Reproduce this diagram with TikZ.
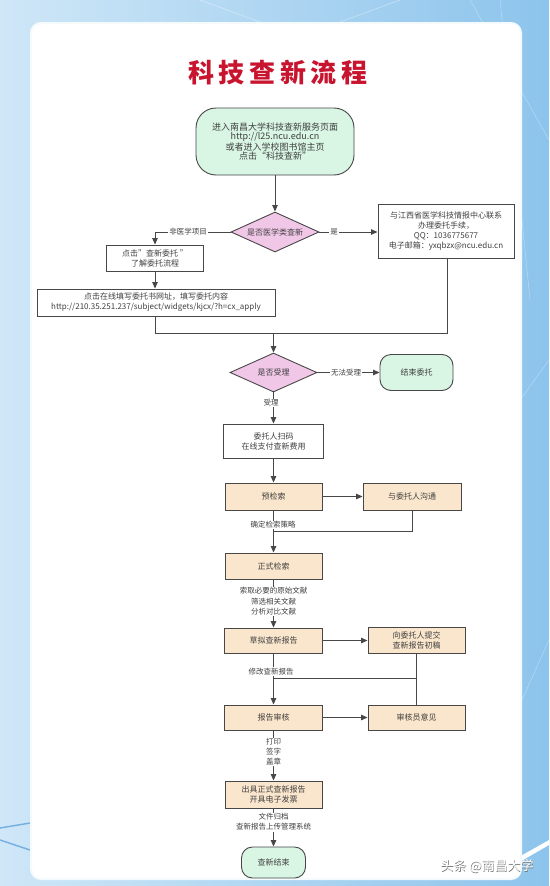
\documentclass[tikz,border=0pt]{standalone}
\usepackage{fontspec}
\setmainfont{Noto Sans CJK SC}
\newfontfamily\titlefont[LetterSpace=18]{Noto Sans CJK SC}
\usetikzlibrary{shapes.geometric,arrows.meta,calc}
\definecolor{lc}{HTML}{474747}
\definecolor{tc}{HTML}{404040}
\definecolor{tan}{HTML}{FAE6CC}
\definecolor{grn}{HTML}{D9F5E4}
\definecolor{pnk}{HTML}{F1C7E8}
\definecolor{ttl}{HTML}{C8142E}
\definecolor{bgl}{HTML}{CFE7F7}
\definecolor{bgr}{HTML}{8DC4EC}
\definecolor{streak}{HTML}{3F8FD6}
\begin{document}
\begin{tikzpicture}[x=1pt,y=-1pt,
  every node/.style={text=tc},
  box/.style={draw=lc,line width=0.9pt,fill=white,align=center,inner sep=0pt,font=\fontsize{8}{10}\selectfont},
  tbox/.style={box,fill=tan},
  gbox/.style={box,fill=grn,rounded corners=11pt},
  dia/.style={diamond,draw=lc,line width=0.9pt,fill=pnk,inner sep=0pt,aspect=2.2,font=\fontsize{8}{10}\selectfont},
  arr/.style={draw=lc,line width=1pt,-{Triangle[length=6.5pt,width=5.5pt]}},
  ln/.style={draw=lc,line width=1pt},
  lab/.style={fill=white,inner sep=1pt,align=center,font=\fontsize{7.5}{10}\selectfont}]
\useasboundingbox (0,0) rectangle (549,886);
% background
\shade[left color=bgl,right color=bgr] (0,0) rectangle (549,886);
\draw[white,opacity=0.35,line width=0.5pt] (470,0) -- (549,140) (500,0) -- (530,300) (520,400) -- (549,360) (522,700) -- (549,640);
\draw[white,opacity=0.4,line width=0.6pt] (200,0) -- (260,22) (340,22) -- (400,0);
\draw[streak,line width=1.5pt,opacity=0.6] (0,828) -- (30,823) (0,840) -- (30,850);
\fill[white] (480,879) -- (549,840) -- (549,845) -- (490,879) -- cycle;
% card
\draw[draw=white!80!bgl,line width=2pt,fill=white,rounded corners=10pt] (31,23) rectangle (521,879);
% title
\node (title) at (278,73) {\titlefont\fontsize{26}{30}\selectfont\bfseries\color{ttl}科技查新流程};
% nodes
\node[gbox,minimum width=158pt,minimum height=67pt,rounded corners=20pt,font=\fontsize{9}{9.6}\selectfont] (start) at (275,141.5)
  {进入南昌大学科技查新服务页面\\http://l25.ncu.edu.cn\\或者进入学校图书馆主页\\点击“科技查新”};
\node[dia,minimum width=88pt,minimum height=40pt] (d1) at (275,232) {是否医学类查新};
\node[box,minimum width=97pt,minimum height=26pt] (b2) at (155,258) {点击”查新委托 ”\\了解委托流程};
\node[box,minimum width=238pt,minimum height=27pt] (b3) at (156,302.5)
  {点击在线填写委托书网址，填写委托内容\\http://210.35.251.237/subject/widgets/kjcx/?h=cx\_apply};
\node[box,minimum width=136pt,minimum height=54pt] (bR) at (446,231)
  {与江西省医学科技情报中心联系\\办理委托手续，\\QQ：1036775677\\电子邮箱：yxqbzx@ncu.edu.cn};
\node[dia,minimum width=87pt,minimum height=39pt] (d2) at (273.5,372.5) {是否受理};
\node[gbox,minimum width=73pt,minimum height=36pt] (endA) at (416.5,372.5) {结束委托};
\node[box,minimum width=100pt,minimum height=34pt] (pay) at (273.5,441) {委托人扫码\\在线支付查新费用};
\node[tbox,minimum width=97pt,minimum height=27pt] (pre) at (273.5,496.5) {预检索};
\node[tbox,minimum width=98pt,minimum height=27pt] (comm) at (412,496.5) {与委托人沟通};
\node[tbox,minimum width=97pt,minimum height=26pt] (formal) at (273.5,566) {正式检索};
\node[tbox,minimum width=98pt,minimum height=25pt] (draft) at (273.5,640.5) {草拟查新报告};
\node[tbox,minimum width=97pt,minimum height=26pt] (submit) at (416.5,640.5) {向委托人提交\\查新报告初稿};
\node[tbox,minimum width=98pt,minimum height=25pt] (review) at (273.5,717.5) {报告审核};
\node[tbox,minimum width=97pt,minimum height=25pt] (opinion) at (416.5,717.5) {审核员意见};
\node[tbox,minimum width=97pt,minimum height=27pt] (issue) at (273.5,794.5) {出具正式查新报告\\开具电子发票};
\node[gbox,minimum width=64pt,minimum height=31pt] (finish) at (273.5,862.5) {查新结束};
% coordinates
\coordinate (c1) at (155,232);
\coordinate (m1) at (155,333);
\coordinate (m2) at (447,333);
\coordinate (mm) at (273.5,333);
\coordinate (k1) at (412,531);
\coordinate (k2) at (273.5,531);
\coordinate (r1) at (416.5,678);
\coordinate (r2) at (273.5,678);
% connectors
\draw[arr] (start) -- (d1);
\draw[arr] (d1.west) -- (c1) -- (b2.north);
\draw[arr] (d1.east) -- (d1.east -| bR.west);
\draw[arr] (b2) -- (b2.south |- b3.north);
\draw[ln] (b2.south |- b3.south) -- (m1) -- (m2) -- (m2 |- bR.south);
\draw[arr] (mm) -- (d2.north);
\draw[arr] (d2.east) -- (endA.west);
\draw[arr] (d2.south) -- (pay.north);
\draw[arr] (pay) -- (pre);
\draw[arr] (pre) -- (comm);
\draw[ln] (comm.south -| k1) -- (k1) -- (k2);
\draw[arr] (pre) -- (formal);
\draw[arr] (formal) -- (draft);
\draw[arr] (draft) -- (submit);
\draw[ln] (submit) -- (opinion);
\draw[ln] (r1) -- (r2);
\draw[arr] (draft) -- (review);
\draw[arr] (review) -- (opinion);
\draw[arr] (review) -- (issue);
\draw[arr] (issue) -- (finish);
% labels
\node[lab] (l1) at (188,232) {非医学项目};
\node[lab] (l2) at (334,232) {是};
\node[lab] (l3) at (346,372.5) {无法受理};
\node[lab] (l4) at (271,403) {受理};
\node[lab] (l5) at (273,525) {确定检索策略};
\node[lab,font=\fontsize{7.5}{10.5}\selectfont] (l6) at (273.5,601.5) {索取必要的原始文献\\筛选相关文献\\分析对比文献};
\node[lab] (l7) at (271,671.5) {修改查新报告};
\node[lab,font=\fontsize{7.5}{10}\selectfont] (l8) at (273.5,752) {打印\\签字\\盖章};
\node[lab,font=\fontsize{7.5}{10}\selectfont] (l9) at (273.5,822) {文件归档\\查新报告上传管理系统};
% watermark
\node[text=black!55,font=\fontsize{13}{15}\selectfont] (wm0) at (487.6,866.6) {头条 @南昌大学};
\node[text=white,font=\fontsize{13}{15}\selectfont] (wm) at (487,866) {头条 @南昌大学};
\end{tikzpicture}
\end{document}
